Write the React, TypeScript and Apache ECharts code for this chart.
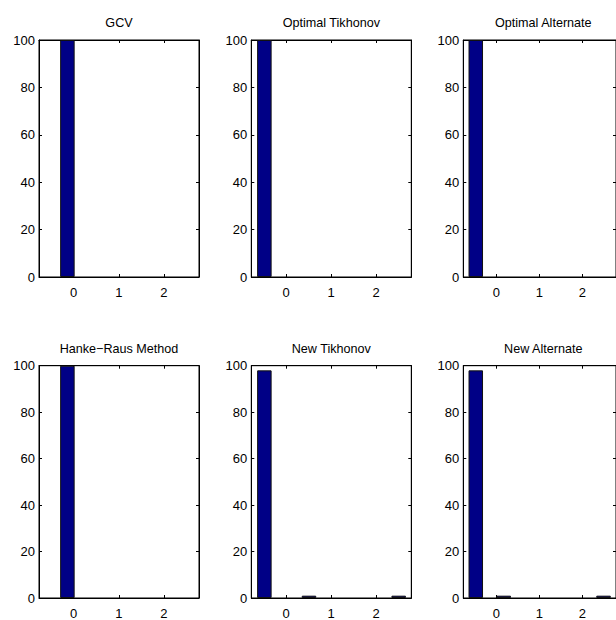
import React, { useEffect, useRef } from "react";
import * as echarts from "echarts";

// Panel titles
const panelTitles = [
  "GCV",
  "Optimal Tikhonov",
  "Optimal Alternate",
  "Hanke\u2212Raus Method",
  "New Tikhonov",
  "New Alternate",
];

// Bin centres (x) and counts (y) for each panel
const gcvX = [-0.14];
const gcvY = [100];
const optTikX = [-0.48];
const optTikY = [100];
const optAltX = [-0.48];
const optAltY = [100];
const hankeX = [-0.14];
const hankeY = [100];
const newTikX = [-0.48, 0.51, 2.5];
const newTikY = [98, 1, 1];
const newAltX = [-0.48, 0.17, 2.49];
const newAltY = [98, 1, 1];

const panelX = [gcvX, optTikX, optAltX, hankeX, newTikX, newAltX];
const panelY = [gcvY, optTikY, optAltY, hankeY, newTikY, newAltY];

const xTickValues = [0, 1, 2];
const xMin = -0.77;
const xMax = 2.78;
const yMin = 0;
const yMax = 100;
const yStep = 20;

const colLefts = [39, 251.3, 463.3];
const rowTops = [40, 365.7];
const gridW = 160;
const gridH = 237;

const FONT = "'Liberation Sans', Arial, Helvetica, sans-serif";
const BAR_COLOR = "#000086";

export default function App() {
  const ref = useRef<HTMLDivElement>(null);

  useEffect(() => {
    if (!ref.current) return;
    const chart = echarts.init(ref.current, null, { renderer: "svg" });

    const grids: any[] = [];
    const xAxes: any[] = [];
    const yAxes: any[] = [];
    const series: any[] = [];
    const graphics: any[] = [];

    for (let i = 0; i < 6; i++) {
      const r = Math.floor(i / 3);
      const c = i % 3;
      const left = colLefts[c];
      const top = rowTops[r];
      grids.push({
        left,
        top,
        width: gridW,
        height: gridH,
        show: true,
        borderColor: "#000",
        borderWidth: 1,
        backgroundColor: "#fff",
        containLabel: false,
      });
      // bottom x axis
      xAxes.push({
        type: "value",
        gridIndex: i,
        min: xMin,
        max: xMax,
        position: "bottom",
        axisLine: { show: true, onZero: false, lineStyle: { color: "#000", width: 1 } },
        axisTick: {
          show: true,
          inside: true,
          length: 3,
          customValues: xTickValues,
          lineStyle: { color: "#000" },
        },
        axisLabel: {
          show: true,
          customValues: xTickValues,
          margin: 9,
          color: "#000",
          fontFamily: FONT,
          fontSize: 13,
        },
        splitLine: { show: false },
      });
      // top x axis (tick marks only)
      xAxes.push({
        type: "value",
        gridIndex: i,
        min: xMin,
        max: xMax,
        position: "top",
        axisLine: { show: true, onZero: false, lineStyle: { color: "#000", width: 1 } },
        axisTick: {
          show: true,
          inside: true,
          length: 3,
          customValues: xTickValues,
          lineStyle: { color: "#000" },
        },
        axisLabel: { show: false },
        splitLine: { show: false },
      });
      // left y axis
      yAxes.push({
        type: "value",
        gridIndex: i,
        min: yMin,
        max: yMax,
        interval: yStep,
        position: "left",
        axisLine: { show: true, onZero: false, lineStyle: { color: "#000", width: 1 } },
        axisTick: { show: true, inside: true, length: 3, lineStyle: { color: "#000" } },
        axisLabel: {
          show: true,
          margin: 4,
          color: "#000",
          fontFamily: FONT,
          fontSize: 13,
        },
        splitLine: { show: false },
      });
      // right y axis (tick marks only)
      yAxes.push({
        type: "value",
        gridIndex: i,
        min: yMin,
        max: yMax,
        interval: yStep,
        position: "right",
        axisLine: { show: true, onZero: false, lineStyle: { color: "#000", width: 1 } },
        axisTick: { show: true, inside: true, length: 3, lineStyle: { color: "#000" } },
        axisLabel: { show: false },
        splitLine: { show: false },
      });

      const data = panelX[i].map((x, k) => [x, panelY[i][k]]);
      series.push({
        type: "bar",
        name: panelTitles[i],
        xAxisIndex: i * 2,
        yAxisIndex: i * 2,
        data,
        barWidth: 14.5,
        itemStyle: { color: BAR_COLOR, borderColor: "#111", borderWidth: 1 },
        z: 1,
      });

      graphics.push({
        type: "text",
        x: left + gridW / 2,
        y: top - 17,
        style: {
          text: panelTitles[i],
          textAlign: "center",
          textVerticalAlign: "middle",
          fill: "#000",
          font: `12.6px ${FONT}`,
        },
      });
    }

    chart.setOption({
      animation: false,
      backgroundColor: "#fff",
      grid: grids,
      xAxis: xAxes,
      yAxis: yAxes,
      series,
      graphic: graphics,
    });

    return () => chart.dispose();
  }, []);

  return (
    <div
      ref={ref}
      style={{ position: "fixed", left: 0, top: 0, width: 616, height: 620 }}
    />
  );
}
